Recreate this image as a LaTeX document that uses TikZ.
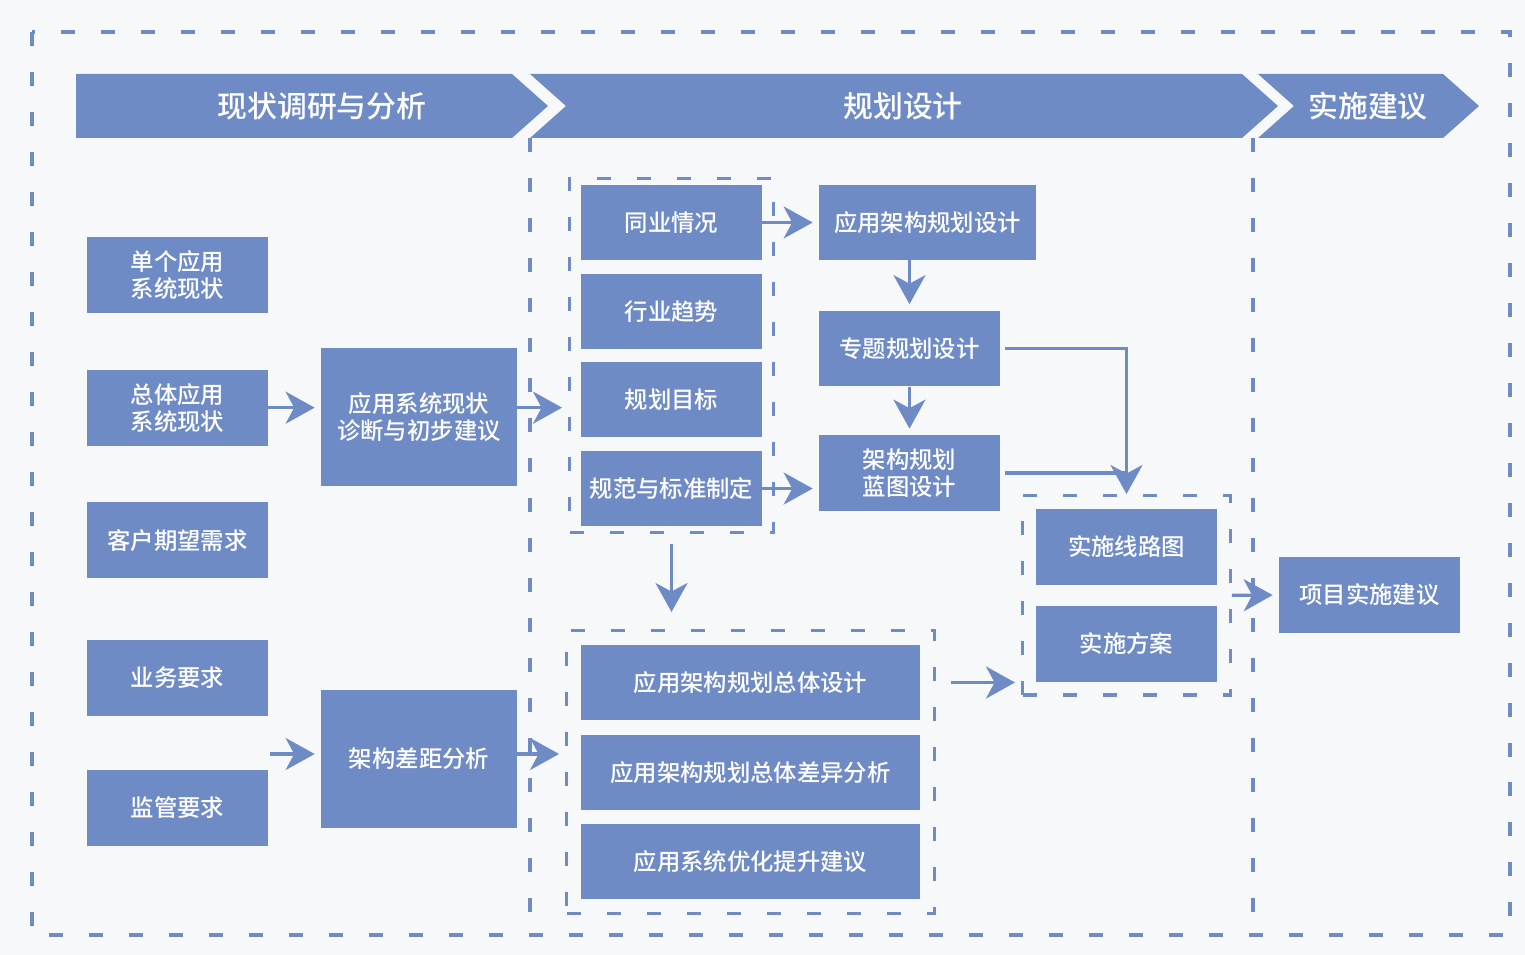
\documentclass[tikz,border=0pt]{standalone}
\usepackage{fontspec}
\setmainfont{Noto Sans CJK SC}[BoldFont={Noto Sans CJK SC Medium}]
\usepackage{xcolor}
\usetikzlibrary{arrows.meta, positioning, calc, fit}
\definecolor{planblue}{HTML}{6F8BC6}
\definecolor{paper}{HTML}{F7F8FA}
\tikzstyle{box} = [rectangle, minimum width=3.62cm, minimum height=1.52cm, inner sep=0pt, text centered, align=center, fill=planblue, text=white, font=\fontsize{13.3pt}{15.5pt}\selectfont\bfseries]
\tikzstyle{group} = [draw=planblue, line width=0.065cm, dash pattern=on 0.28cm off 0.52cm]
\tikzstyle{arrow} = [draw=planblue, line width=0.065cm, -{Stealth[length=0.58cm, width=0.64cm, inset=0.17cm]}, shorten >=0.12cm]
\tikzstyle{link} = [draw=planblue, line width=0.065cm]
\tikzstyle{banner} = [fill=planblue]
\tikzstyle{title} = [text=white, font=\fontsize{17pt}{20pt}\selectfont\bfseries]

\begin{document}
\begin{tikzpicture}[x=0.02cm, y=-0.02cm]
    % background and outer frame
    \fill[paper] (0,0) rectangle (1525,955);
    \draw[group] (32,32) rectangle (1510,935);

    % header chevrons
    \fill[banner] (76,74) -- (512,74) -- (548,106) -- (512,138) -- (76,138) -- cycle;
    \fill[banner] (530,74) -- (1242,74) -- (1278,106) -- (1242,138) -- (530,138) -- (566,106) -- cycle;
    \fill[banner] (1258,74) -- (1443,74) -- (1479,106) -- (1443,138) -- (1258,138) -- (1294,106) -- cycle;
    \node (t1) [title] at (322,106) {现状调研与分析};
    \node (t2) [title] at (903,106) {规划设计};
    \node (t3) [title] at (1368,106) {实施建议};

    % column separators
    \draw[group] (530,138) -- (530,935);
    \draw[group] (1253,138) -- (1253,935);

    % current situation (left)
    \node (a1) [box] at (177.5,275) {单个应用\\系统现状};
    \node (a2) [box, below=1.12cm of a1] {总体应用\\系统现状};
    \node (a3) [box, below=1.12cm of a2] {客户期望需求};
    \node (a4) [box, below=1.22cm of a3] {业务要求};
    \node (a5) [box, below=1.06cm of a4] {监管要求};
    \coordinate (k1) at (270,754);

    \node (b1) [box, minimum width=3.92cm, minimum height=2.76cm] at (419,417) {应用系统现状\\诊断与初步建议};
    \node (b2) [box, minimum width=3.92cm, minimum height=2.76cm] at (419,759) {架构差距分析};

    % planning inputs
    \node (c1) [box, minimum height=1.5cm] at (671.5,222.5) {同业情况};
    \node (c2) [box, minimum height=1.5cm, below=0.26cm of c1] {行业趋势};
    \node (c3) [box, minimum height=1.5cm, below=0.26cm of c2] {规划目标};
    \node (c4) [box, minimum height=1.5cm, below=0.26cm of c3] {规范与标准制定};
    \node (g1) [group, fit=(c1)(c4), inner xsep=0.22cm, inner ysep=0.12cm] {};

    % planning design
    \node (d1) [box, minimum width=4.34cm, minimum height=1.5cm] at (927.5,222.5) {应用架构规划设计};
    \node (d2) [box] at (909.5,348.5) {专题规划设计};
    \node (d3) [box] at (909.5,473) {架构规划\\蓝图设计};

    % overall design
    \node (f1) [box, minimum width=6.78cm, minimum height=1.5cm] at (750.5,682.5) {应用架构规划总体设计};
    \node (f2) [box, minimum width=6.78cm, minimum height=1.5cm, below=0.28cm of f1] {应用架构规划总体差异分析};
    \node (f3) [box, minimum width=6.78cm, minimum height=1.5cm, below=0.28cm of f2] {应用系统优化提升建议};
    \node (g2) [group, fit=(f1)(f3), inner xsep=0.28cm, inner ysep=0.28cm] {};

    % implementation
    \node (e1) [box] at (1126.5,547) {实施线路图};
    \node (e2) [box, below=0.4cm of e1] {实施方案};
    \node (g3) [group, fit=(e1)(e2), inner sep=0.26cm] {};
    \node (h1) [box] at (1369.5,595) {项目实施建议};

    \draw [arrow] (a2.east) -- (a2.east -| b1.west);
    \draw [arrow] (k1) -- (k1 -| b2.west);
    \draw [arrow] (b1.east |- a2.east) -- (g1.west |- a2.east);
    \draw [arrow] (b2.east |- k1) -- (g2.west |- k1);
    \draw [arrow] (c1.east) -- (d1.west);
    \draw [arrow] (c4.east) -- (c4.east -| d3.west);
    \draw [arrow] (d1.south -| d2.north) -- (d2.north);
    \draw [arrow] (d2.south) -- (d3.north);
    \draw [arrow, shorten <=0.2cm, shorten >=0.34cm] (g1.south) -- (g1.south |- g2.north);
    \draw [arrow, shorten <=0.3cm] (g2.east |- f1) -- (g3.west |- f1);
    \draw [arrow, shorten <=0.1cm, shorten >=0cm] (d2.east) -| (g3.north);
    \draw [link, shorten <=0.1cm] (d3.east) -- (d3.east -| g3.north);
    \draw [arrow] (g3.east) -- (h1.west);
\end{tikzpicture}
\end{document}
